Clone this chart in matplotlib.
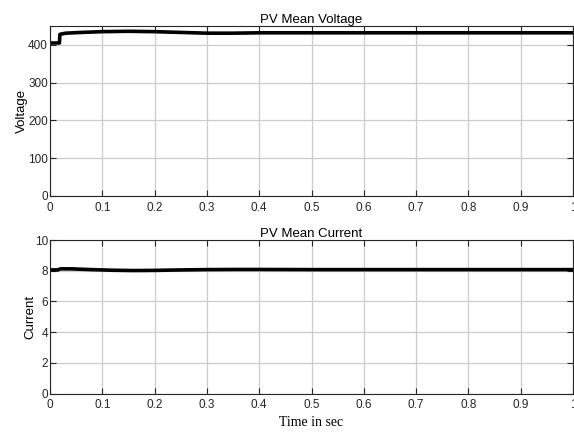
import matplotlib
matplotlib.use("Agg")
import matplotlib.pyplot as plt
import numpy as np

# PV mean voltage / current samples (time in seconds)
t_v = [0.0, 0.018, 0.019, 0.03, 0.06, 0.10, 0.15, 0.20, 0.25, 0.30, 0.35, 0.40, 0.50, 0.60, 0.70, 0.80, 0.90, 1.0]
voltage = [405, 405, 428, 431, 433, 435, 436, 435, 433, 431, 431, 432, 432, 432, 432, 432, 432, 432]

t_i = [0.0, 0.015, 0.02, 0.04, 0.08, 0.12, 0.16, 0.20, 0.25, 0.30, 0.35, 0.40, 0.50, 0.60, 0.70, 0.80, 0.90, 1.0]
current = [8.05, 8.05, 8.12, 8.12, 8.07, 8.03, 8.01, 8.02, 8.05, 8.07, 8.08, 8.08, 8.07, 8.07, 8.07, 8.07, 8.07, 8.07]

x_ticks = [0, 0.1, 0.2, 0.3, 0.4, 0.5, 0.6, 0.7, 0.8, 0.9, 1]
x_tick_labels = ["0", "0.1", "0.2", "0.3", "0.4", "0.5", "0.6", "0.7", "0.8", "0.9", "1"]
v_ticks = [0, 100, 200, 300, 400]
i_ticks = [0, 2, 4, 6, 8, 10]

plt.rcParams["font.family"] = ["Liberation Sans", "DejaVu Sans"]

fig = plt.figure(figsize=(5.74, 4.37), dpi=100)
ax1 = fig.add_axes([50 / 574, 1 - 196 / 437, 523 / 574, 170 / 437])
ax2 = fig.add_axes([50 / 574, 1 - 393.5 / 437, 523 / 574, 153.5 / 437])


def style(ax):
    ax.set_xlim(0, 1)
    ax.set_xticks(x_ticks)
    ax.set_xticklabels(x_tick_labels)
    ax.grid(True, color="#cccccc", linewidth=0.9)
    ax.set_axisbelow(True)
    ax.tick_params(direction="in", length=4, labelsize=8.5, colors="#262626",
                   top=True, right=True)
    ax.tick_params(axis="x", pad=4)
    ax.tick_params(axis="y", pad=1.5)
    for s in ax.spines.values():
        s.set_color("#262626")
        s.set_linewidth(0.8)


ax1.plot(t_v, voltage, color="black", linewidth=2.6)
style(ax1)
ax1.set_ylim(0, 450)
ax1.set_yticks(v_ticks)
ax1.set_ylabel("Voltage", fontsize=9.5)
ax1.yaxis.set_label_coords(-0.043, 0.5)
ax1.set_title("PV Mean Voltage", fontsize=9.5, pad=2)

ax2.plot(t_i, current, color="black", linewidth=2.6)
style(ax2)
ax2.set_ylim(0, 10)
ax2.set_yticks(i_ticks)
ax2.set_ylabel("Current", fontsize=9.5)
ax2.yaxis.set_label_coords(-0.026, 0.5)
ax2.set_title("PV Mean Current", fontsize=9.5, pad=2)

fig.text(311 / 574, 1 - 423 / 437, "Time in sec", ha="center", va="center",
         fontsize=10, family=["Liberation Serif", "DejaVu Serif"])

fig.savefig("out.png", dpi=100)
